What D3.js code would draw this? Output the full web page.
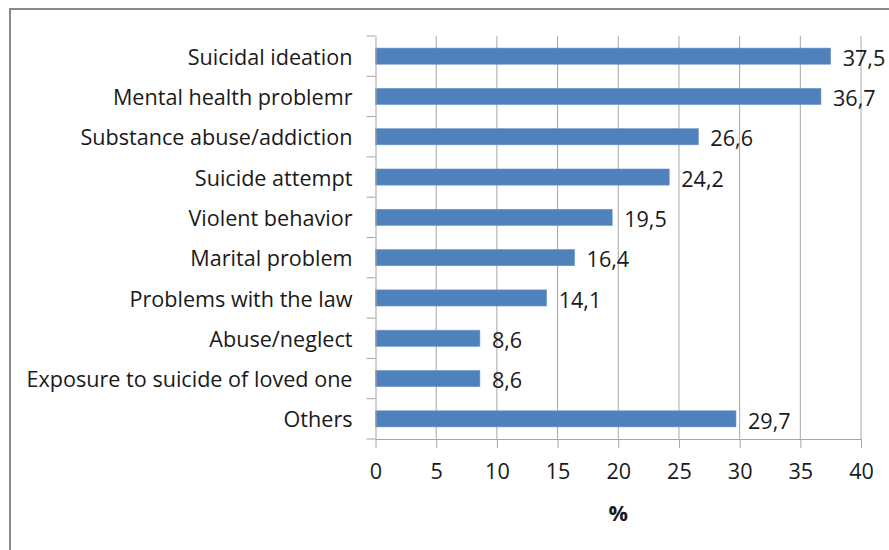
<!DOCTYPE html>
<html>
<head>
<meta charset="utf-8">
<script src="https://cdn.jsdelivr.net/npm/d3@7/dist/d3.min.js"></script>
<style>
  html, body { margin: 0; padding: 0; background: #fff; }
  svg { display: block; }
  text { font-family: "Open Sans", "Liberation Sans", Arial, sans-serif; fill: #1a1a1a; }
</style>
</head>
<body>
<svg id="chart" width="889" height="550"></svg>
<script>
// Reasons reported, percent of cases
const categories = [
  "Suicidal ideation",
  "Mental health problemr",
  "Substance abuse/addiction",
  "Suicide attempt",
  "Violent behavior",
  "Marital problem",
  "Problems with the law",
  "Abuse/neglect",
  "Exposure to suicide of loved one",
  "Others"
];
const values = [37.5, 36.7, 26.6, 24.2, 19.5, 16.4, 14.1, 8.6, 8.6, 29.7];
const xTicks = [0, 5, 10, 15, 20, 25, 30, 35, 40];
const xTitle = "%";

const svg = d3.select("#chart");
const fontFamily = "Open Sans, Liberation Sans, Arial, sans-serif";
const fontSize = 21.6;

// Outer frame
svg.append("rect")
  .attr("x", 10).attr("y", 9)
  .attr("width", 900).attr("height", 600)
  .attr("fill", "none")
  .attr("stroke", "#8a8a8a")
  .attr("stroke-width", 2);

const plot = { left: 375.5, right: 861, top: 36, bottom: 439 };

const x = d3.scaleLinear().domain([0, 40]).range([plot.left, plot.right]);
const y = d3.scaleBand().domain(categories).range([plot.top, plot.bottom])
  .paddingInner(0.6).paddingOuter(0.3);
const yBand = d3.scaleBand().domain(categories).range([plot.top, plot.bottom]);

// Vertical gridlines
svg.append("g")
  .selectAll("line")
  .data(xTicks.slice(1))
  .join("line")
  .attr("x1", d => x(d)).attr("x2", d => x(d))
  .attr("y1", plot.top).attr("y2", plot.bottom)
  .attr("stroke", "#a6a6a6").attr("stroke-width", 1);

// Bars
svg.append("g")
  .selectAll("rect")
  .data(values)
  .join("rect")
  .attr("x", x(0))
  .attr("y", (d, i) => y(categories[i]))
  .attr("width", d => x(d) - x(0))
  .attr("height", y.bandwidth())
  .attr("fill", "#4f81bd")
  .attr("stroke", "#6d95c7")
  .attr("stroke-width", 0.6);

// Bottom axis
const xAxis = svg.append("g")
  .attr("transform", `translate(0,${plot.bottom})`)
  .call(d3.axisBottom(x).tickValues(xTicks).tickSize(9).tickPadding(16).tickSizeOuter(0));
xAxis.select(".domain").attr("stroke", "#a6a6a6");
xAxis.selectAll(".tick line").attr("stroke", "#a6a6a6");
xAxis.selectAll(".tick text")
  .attr("font-size", fontSize)
  .attr("font-family", fontFamily)
  .attr("fill", "#1a1a1a");

// Left axis with category labels
const yAxis = svg.append("g")
  .attr("transform", `translate(${plot.left},0)`)
  .call(d3.axisLeft(yBand).tickSize(0).tickPadding(23).tickSizeOuter(0));
yAxis.select(".domain").attr("stroke", "#a6a6a6");
yAxis.selectAll(".tick text")
  .attr("font-size", fontSize)
  .attr("font-family", fontFamily)
  .attr("fill", "#1a1a1a")
  .attr("dy", "0.4em");

// Tick marks between categories on the left axis
const boundaries = d3.range(categories.length + 1).map(i => plot.top + i * yBand.step());
svg.append("g")
  .selectAll("line")
  .data(boundaries)
  .join("line")
  .attr("x1", plot.left - 9).attr("x2", plot.left)
  .attr("y1", d => d).attr("y2", d => d)
  .attr("stroke", "#a6a6a6");

// Value labels
svg.append("g")
  .selectAll("text")
  .data(values)
  .join("text")
  .attr("x", d => x(d) + 12)
  .attr("y", (d, i) => y(categories[i]) + y.bandwidth() / 2)
  .attr("dy", "0.45em")
  .attr("font-size", fontSize)
  .text(d => d3.format(".1f")(d).replace(".", ","));

// Axis title
svg.append("text")
  .attr("x", x(20))
  .attr("y", 512)
  .attr("dy", "0.4em")
  .attr("text-anchor", "middle")
  .attr("font-size", fontSize)
  .attr("font-weight", "bold")
  .text(xTitle);
</script>
</body>
</html>
